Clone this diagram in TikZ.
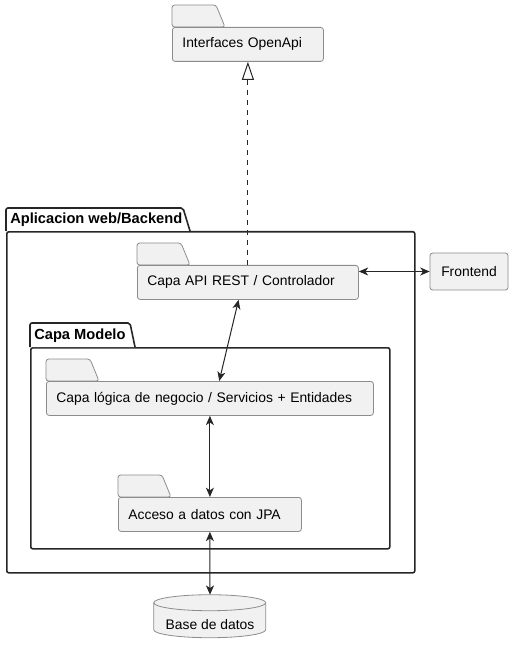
\documentclass[tikz,border=0pt]{standalone}
\usepackage{fontspec}
\setmainfont{Liberation Sans}
\usetikzlibrary{arrows.meta}
\definecolor{fondo}{HTML}{F1F1F1}
\definecolor{borde}{HTML}{8C8C8C}
\definecolor{linea}{HTML}{262626}

\begin{document}
\begin{tikzpicture}[x=0.75pt,y=-0.75pt]
		% Estilos
		\tikzstyle{paquete}=[draw=borde, fill=fondo, rounded corners=2pt, line width=0.6pt, font=\fontsize{10.4}{12}\selectfont, align=left, inner xsep=7.5pt, inner ysep=0pt, minimum height=25.5pt, anchor=north west]
		\tikzstyle{onglet}=[draw=borde, fill=fondo, line width=0.6pt, rounded corners=2pt]
		\tikzstyle{cadre}=[draw=linea, line width=1.2pt, rounded corners=1.5pt, anchor=north west, inner sep=0pt]
		\tikzstyle{titre}=[font=\bfseries\fontsize{11}{13}\selectfont, anchor=west, inner sep=0pt]
		\tikzstyle{fleche}=[<->, >={Stealth[length=7pt,width=6pt,inset=2pt]}, draw=linea, line width=0.75pt]
		\tikzstyle{herencia}=[-{Triangle[open,length=13.5pt,width=9pt]}, draw=linea, line width=0.75pt, dash pattern=on 4pt off 3.5pt]
		% Pestana de paquete : x, y del cuerpo
		\def\Onglet#1#2{\filldraw[onglet] (#1,#2) -- (#1,#2-22) -- (#1+44,#2-22) -- (#1+53,#2) -- cycle;}
		\useasboundingbox (0,0) rectangle (514,655);
		% Marcos
		\node[cadre, minimum width=306pt, minimum height=255.75pt] (backend) at (6,231) {};
		\draw[cadre, fill=white] (6,231) -- (6,208) -- (183,208) -- (190,231);
		\node[titre] (tbackend) at (10,220) {Aplicacion web/Backend};
		\node[cadre, minimum width=269.25pt, minimum height=150.75pt] (modelo) at (30,347) {};
		\draw[cadre, fill=white] (30,347) -- (30,323) -- (130,323) -- (135,347);
		\node[titre] (tmodelo) at (34,336) {Capa Modelo};
		% Paquetes
		\Onglet{172}{27}
		\node[paquete, text width=98.25pt] (openapi) at (172,27) {Interfaces OpenApi};
		\Onglet{137}{265}
		\node[paquete, text width=150.75pt] (api) at (137,265) {Capa API REST / Controlador};
		\Onglet{46}{381}
		\node[paquete, text width=230.25pt] (logica) at (46,381) {Capa lógica de negocio / Servicios + Entidades};
		\Onglet{118}{497}
		\node[paquete, text width=122.25pt] (acceso) at (118,497) {Acceso a datos con JPA};
		% Frontend
		\node[draw=borde, fill=fondo, rounded corners=2pt, line width=0.6pt, font=\fontsize{10.4}{12}\selectfont, minimum width=58.5pt, minimum height=27.75pt] (front) at (469,271.5) {Frontend};
		% Base de datos
		\node[minimum width=84pt, minimum height=32.25pt, inner sep=0pt] (base) at (210,616.5) {};
		\filldraw[draw=borde, fill=fondo, line width=0.6pt] (base.north west) ++(0,8) -- ++(0,27) arc (180:360:42pt and 6pt) -- ++(0,-27) arc (0:180:42pt and 6pt) -- cycle;
		\draw[draw=borde, line width=0.6pt] (base.north west) ++(0,8) arc (180:360:42pt and 6pt);
		\node[font=\fontsize{10.4}{12}\selectfont] (tbase) at (210,625) {Base de datos};
		% Conectores
		\draw[herencia] (api.north) -- (openapi.south);
		\draw[fleche] (api.east |- front.west) -- (front.west);
		\draw[fleche] ([xshift=-7pt]api.south) -- ([xshift=7pt]logica.north);
		\draw[fleche] (logica.south) -- (acceso.north);
		\draw[fleche] (acceso.south) -- (base.north);
	\end{tikzpicture}
\end{document}
